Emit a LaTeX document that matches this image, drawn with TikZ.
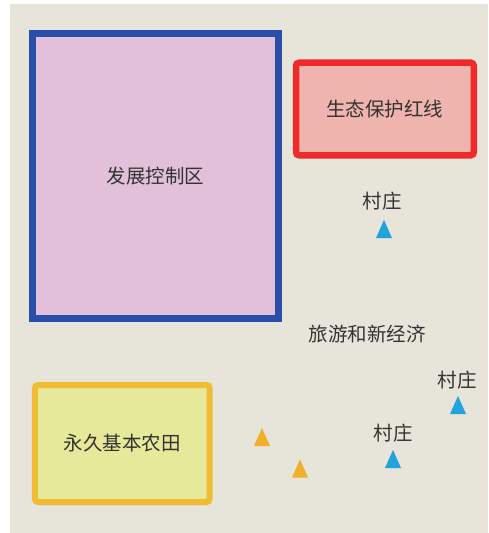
\documentclass[tikz,border=0pt]{standalone}
\usepackage{fontspec}
\setmainfont{Noto Sans CJK SC}
\definecolor{bgc}{HTML}{E7E4DA}
\definecolor{bluebd}{HTML}{2A4FA8}
\definecolor{pinkfill}{HTML}{E2C0D9}
\definecolor{redbd}{HTML}{EE2A2A}
\definecolor{redfill}{HTML}{EFB4AE}
\definecolor{yelbd}{HTML}{F0BC34}
\definecolor{yelfill}{HTML}{E6E89A}
\definecolor{trib}{HTML}{22A3DC}
\definecolor{trio}{HTML}{F0B02C}
\definecolor{txt}{HTML}{333333}
\begin{document}
\begin{tikzpicture}[x=1pt,y=-1pt,
  lbl/.style={text=txt,inner sep=0pt,font=\fontsize{19.5}{20}\selectfont},
  zone/.style={lbl,draw,inner sep=0pt},
  tri/.pic={\fill (-8,9) -- (8,9) -- (0,-9) -- cycle;}]
\useasboundingbox (0,0) rectangle (488,533);
\fill[white] (0,0) rectangle (488,533);
\fill[bgc] (10,4) rectangle (488,533);
\node[zone,draw=bluebd,fill=pinkfill,line width=7,minimum width=245.7,minimum height=284.7] (dev) at (155.4,175.9) {发展控制区};
\node[zone,draw=redbd,fill=redfill,line width=6.5,rounded corners=3,minimum width=177.7,minimum height=92.6] (eco) at (384.9,109) {生态保护红线};
\node[zone,draw=yelbd,fill=yelfill,line width=6,rounded corners=3,minimum width=174.7,minimum height=117] (farm) at (122.3,443.5) {永久基本农田};
\node[lbl] (tour) at (367,334) {旅游和新经济};
\node[lbl] (v1) at (382,201.5) {村庄};
\node[lbl] (v2) at (457,380) {村庄};
\node[lbl] (v3) at (393,433.5) {村庄};
\coordinate (t1) at (384,229);
\coordinate (t2) at (458,405);
\coordinate (t3) at (393,459);
\coordinate (o1) at (262,437);
\coordinate (o2) at (300,468.5);
\pic[trib] at (t1) {tri};
\pic[trib] at (t2) {tri};
\pic[trib] at (t3) {tri};
\pic[trio] at (o1) {tri};
\pic[trio] at (o2) {tri};
\end{tikzpicture}
\end{document}
